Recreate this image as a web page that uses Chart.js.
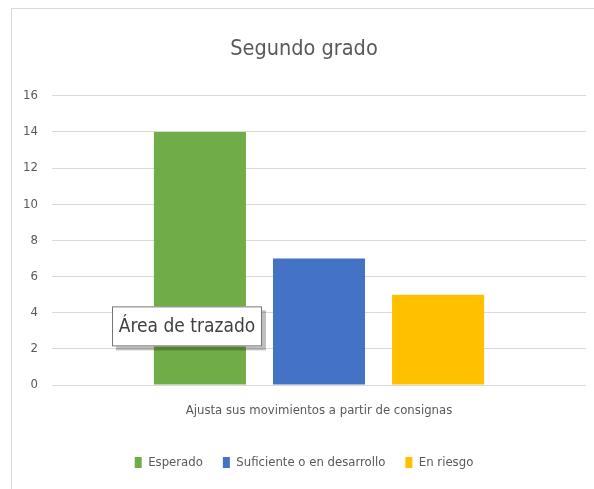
<!DOCTYPE html>
<html>
<head>
<meta charset="utf-8">
<script src="https://cdn.jsdelivr.net/npm/chart.js@4"></script>
<style>
  html, body { margin: 0; padding: 0; background: #fff; overflow: hidden; }
  #marco {
    position: absolute; left: 11px; top: 8px;
    width: 594px; height: 481px;
    border-left: 1px solid #d9d9d9; border-top: 1px solid #d9d9d9;
  }
  #grafico { display: block; }
</style>
</head>
<body>
<div id="marco"><canvas id="grafico" width="594" height="481"></canvas></div>
<script>
// --- DATOS ---
const categorias = ['Ajusta sus movimientos a partir de consignas'];
const series = ['Esperado', 'Suficiente o en desarrollo', 'En riesgo'];
const valores = [14, 7, 5];
const colores = ['#70AD47', '#4472C4', '#FFC000'];
const ticksY = [0, 2, 4, 6, 8, 10, 12, 14, 16];

const fuente = "'Liberation Sans Narrow', 'DejaVu Sans Condensed', 'Open Sans', sans-serif";
const gris = '#595959';

// Cuadro "Área de trazado" (tooltip de Excel capturado en la imagen)
const cuadroTrazado = {
  id: 'cuadroTrazado',
  afterDraw(chart) {
    const ctx = chart.ctx;
    const y = chart.scales.y;
    const x0 = chart.chartArea.left + 60;
    const top = y.getPixelForValue(4.35);
    const w = 150, h = 40;
    ctx.save();
    ctx.fillStyle = 'rgba(0,0,0,0.25)';
    ctx.fillRect(x0 + 4, top + 4, w, h);
    ctx.fillStyle = '#ffffff';
    ctx.fillRect(x0, top, w, h);
    ctx.strokeStyle = '#767676';
    ctx.lineWidth = 1;
    ctx.strokeRect(x0 + 0.5, top + 0.5, w - 1, h - 1);
    ctx.fillStyle = '#404040';
    ctx.font = '19px ' + fuente;
    ctx.textAlign = 'center';
    ctx.textBaseline = 'middle';
    ctx.fillText('Área de trazado', x0 + w / 2, top + h / 2 + 1);
    ctx.restore();
  }
};

new Chart(document.getElementById('grafico'), {
  type: 'bar',
  data: {
    labels: categorias,
    datasets: series.map((nombre, i) => ({
      label: nombre,
      data: [valores[i]],
      backgroundColor: colores[i],
      categoryPercentage: 0.669,
      barPercentage: 0.773
    }))
  },
  options: {
    responsive: false,
    animation: false,
    layout: { padding: { left: 10, right: 20, top: 0, bottom: 11 } },
    plugins: {
      title: {
        display: true,
        text: 'Segundo grado',
        color: gris,
        font: { family: fuente, size: 21.5, weight: 'normal' },
        padding: { top: 28, bottom: 33 }
      },
      legend: {
        position: 'bottom',
        labels: {
          color: gris,
          font: { family: fuente, size: 13 },
          boxWidth: 7,
          boxHeight: 11,
          padding: 20
        }
      },
      tooltip: { enabled: false }
    },
    scales: {
      x: {
        afterFit(axis) { axis.height = 51; },
        grid: { display: false, drawTicks: false },
        border: { display: false },
        ticks: { color: gris, font: { family: fuente, size: 13 }, padding: 18 }
      },
      y: {
        min: 0,
        max: 16,
        afterBuildTicks(axis) { axis.ticks = ticksY.map(v => ({ value: v })); },
        afterFit(axis) { axis.width = 30; },
        grid: { color: '#d9d9d9', drawTicks: false },
        border: { display: false },
        ticks: { color: gris, font: { family: fuente, size: 13 }, padding: 14 }
      }
    }
  },
  plugins: [cuadroTrazado]
});
</script>
</body>
</html>
